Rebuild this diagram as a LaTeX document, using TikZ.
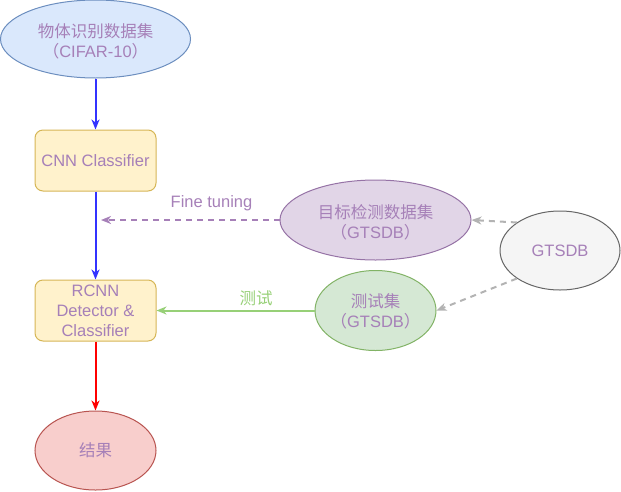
\documentclass[tikz,border=0pt]{standalone}
\usepackage{fontspec}
\setmainfont{Liberation Sans}
\newfontfamily\cjk{Noto Sans CJK SC}
\usetikzlibrary{shapes.geometric,arrows.meta}
\definecolor{txt}{HTML}{A680B8}
\definecolor{bluef}{HTML}{DAE8FC}
\definecolor{blued}{HTML}{6C8EBF}
\definecolor{boxf}{HTML}{FFF2CC}
\definecolor{boxd}{HTML}{D6B656}
\definecolor{purf}{HTML}{E1D5E7}
\definecolor{purd}{HTML}{9673A6}
\definecolor{grf}{HTML}{D5E8D4}
\definecolor{grd}{HTML}{82B366}
\definecolor{grayf}{HTML}{F5F5F5}
\definecolor{grayd}{HTML}{666666}
\definecolor{redf}{HTML}{F8CECC}
\definecolor{redd}{HTML}{B85450}
\definecolor{arrblue}{HTML}{3333FF}
\definecolor{arrred}{HTML}{FF0000}
\definecolor{arrgreen}{HTML}{97D077}
\definecolor{arrgray}{HTML}{B3B3B3}
\begin{document}
\begin{tikzpicture}[x=1pt,y=-1pt,
  font=\fontsize{16.5}{20}\selectfont,
  ell/.style={ellipse, draw, line width=1pt, inner sep=0pt},
  box/.style={rectangle, rounded corners=8pt, draw=boxd, fill=boxf, line width=1pt,
    minimum width=121pt, minimum height=61pt, inner sep=0pt, text=txt, align=center},
  lbl/.style={text=txt, align=center, inner sep=0pt},
  arr/.style={-{Stealth[length=10pt,width=8pt,inset=3pt]}, line width=2pt},
  dsh/.style={dash pattern=on 6pt off 5pt}]
\useasboundingbox (0,0) rectangle (621,491);

\node[ell, fill=bluef, draw=blued, minimum width=190pt, minimum height=78pt] (e1) at (95.5,39) {};
\node[lbl] (t1) at (95.5,41) {{\cjk 物体识别数据集}\\{\cjk （}CIFAR-10{\cjk ）}};

\node[box] (cnn) at (95.5,160.5) {CNN Classifier};
\node[box] (rcnn) at (95.5,310.5) {RCNN\\Detector \&\\Classifier};

\node[ell, fill=redf, draw=redd, minimum width=121pt, minimum height=79pt] (res) at (95.5,450.5) {};
\node[lbl] (t5) at (res.center) {\cjk 结果};

\node[ell, fill=purf, draw=purd, minimum width=191pt, minimum height=80pt] (pe) at (375.5,220) {};
\node[lbl] (tp) at (375.5,222) {{\cjk 目标检测数据集}\\{\cjk （}GTSDB{\cjk ）}};

\node[ell, fill=grf, draw=grd, minimum width=121pt, minimum height=80pt] (ge) at (375.5,310.5) {};
\node[lbl] (tg) at (375.5,311.5) {{\cjk 测试集}\\{\cjk （}GTSDB{\cjk ）}};

\node[ell, fill=grayf, draw=grayd, minimum width=120pt, minimum height=79pt] (g) at (560,250.5) {};
\node[lbl] (tgg) at (g.center) {GTSDB};

\draw[arr, arrblue] (e1.south) -- (cnn.north);
\draw[arr, arrblue] (cnn.south) -- (rcnn.north);
\draw[arr, arrred] (rcnn.south) -- (res.north);

\coordinate (ft) at (101,220);
\draw[arr, txt, dsh] (pe.west) -- (ft);
\node[lbl] (ftl) at (211.5,203) {Fine tuning};

\draw[arr, arrgreen] (ge.west) -- (rcnn.east);
\node[lbl, text=arrgreen] (csl) at (256,298) {\cjk 测试};

\draw[arr, arrgray, dsh] (g.147) -- (pe.east);
\draw[arr, arrgray, dsh] (g.213) -- (ge.east);
\end{tikzpicture}
\end{document}
